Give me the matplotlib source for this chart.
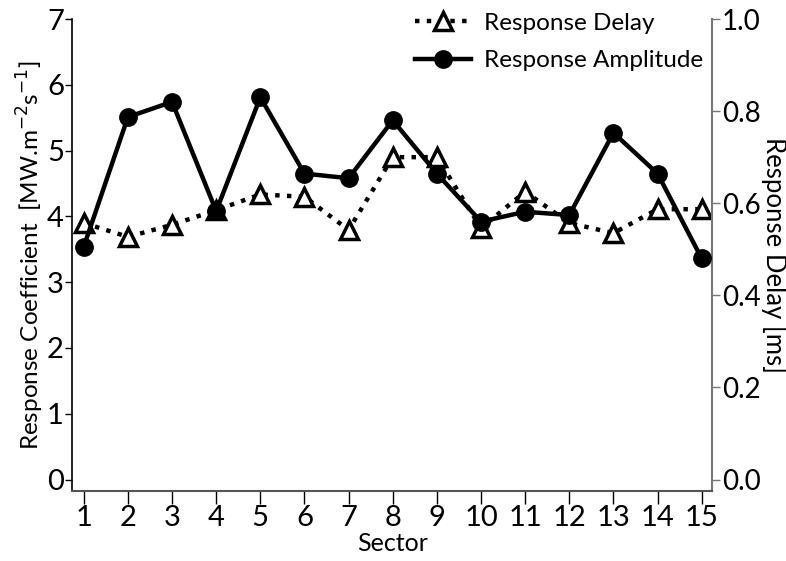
import matplotlib
matplotlib.use("Agg")
import matplotlib.pyplot as plt

plt.rcParams['font.family'] = ['Lato', 'DejaVu Sans']

sectors = list(range(1, 16))
amplitude = [3.54, 5.51, 5.74, 4.08, 5.81, 4.65, 4.58, 5.46, 4.65, 3.92, 4.07, 4.02, 5.27, 4.65, 3.36]
delay = [0.557, 0.527, 0.553, 0.585, 0.619, 0.614, 0.542, 0.700, 0.700, 0.546, 0.625, 0.557, 0.535, 0.587, 0.587]
left_ticks = [0, 1, 2, 3, 4, 5, 6, 7]
right_ticks = [0.0, 0.2, 0.4, 0.6, 0.8, 1.0]

fig = plt.figure(figsize=(7.86, 5.61), dpi=100)
ax = fig.add_axes([72.3/786, 1-490.7/561, (712.3-72.3)/786, (490.7-19)/561])
ax2 = ax.twinx()
ax.set_zorder(ax2.get_zorder() + 1)
ax.patch.set_visible(False)

l2, = ax2.plot(sectors, delay, linestyle=':', color='black', lw=3.2,
               marker='^', markersize=13, markerfacecolor='white',
               markeredgecolor='black', markeredgewidth=2.5, label='Response Delay')
l1, = ax.plot(sectors, amplitude, linestyle='-', color='black', lw=3.2,
              marker='o', markersize=12.5, markerfacecolor='black',
              markeredgecolor='black', label='Response Amplitude')

ylo = -0.17
ax.set_ylim(ylo, 7)
ax2.set_ylim(ylo / 7, 1.0)
ax.set_xlim(0.74, 15.24)

ax.set_yticks(left_ticks)
ax.set_yticklabels([str(t) for t in left_ticks])
ax2.set_yticks(right_ticks)
ax2.set_yticklabels([f"{t:.1f}" for t in right_ticks])
ax.set_xticks(sectors)
ax.set_xticklabels([str(s) for s in sectors])

for a in (ax, ax2):
    a.spines['top'].set_visible(False)
ax.spines['right'].set_visible(False)
ax2.spines['left'].set_visible(False)
ax2.spines['bottom'].set_visible(False)
ax.spines['left'].set_color('black')
ax.spines['left'].set_linewidth(1.2)
ax.spines['bottom'].set_color('#555555')
ax.spines['bottom'].set_linewidth(1.5)
ax2.spines['right'].set_color('#777777')
ax2.spines['right'].set_linewidth(1.5)

ax.tick_params(axis='y', direction='out', length=5, width=1, labelsize=21, pad=1)
ax.tick_params(axis='x', direction='out', length=9, width=1, labelsize=21, pad=1)
ax2.tick_params(axis='y', direction='out', length=6, width=1, colors='#777777',
                labelcolor='black', labelsize=20, pad=1)

ax.set_xlabel('Sector', fontsize=18, labelpad=1)
ax.set_ylabel(r'Response Coefficient  [MW.m$^{-2}$s$^{-1}$]', fontsize=17.5, labelpad=1)
ax2.set_ylabel('Response Delay [ms]', fontsize=18.5, rotation=270, va='center')
ax2.yaxis.set_label_coords(1.096, 0.5)

leg = ax.legend(handles=[l2, l1], loc='upper left', bbox_to_anchor=(0.535, 1.013),
                frameon=False, fontsize=17.5, handlelength=2.3, handletextpad=0.55,
                labelspacing=0.68, borderaxespad=0, borderpad=0)

fig.savefig('out.png', dpi=100)
